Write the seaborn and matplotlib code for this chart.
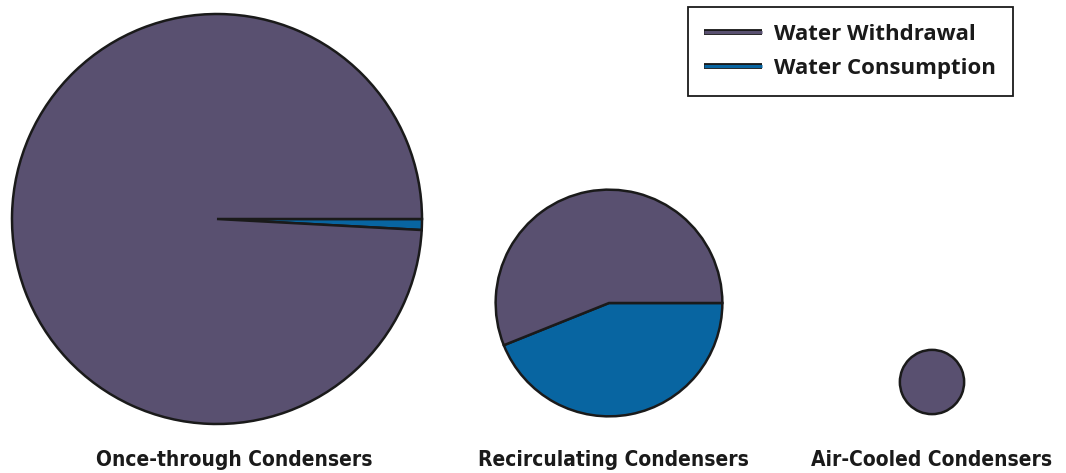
import matplotlib.pyplot as plt
import matplotlib.patheffects as pe
from matplotlib.lines import Line2D
import numpy as np
import seaborn as sns

sns.set_theme(style="white")
plt.rcParams['font.family'] = ['DejaVu Sans']

# Data (gal/MWh)
systems = ["Once-through Condensers", "Recirculating Condensers", "Air-Cooled Condensers"]
withdrawal = [34700, 6000, 860]
consumption = [300, 4700, 0]

colors = {"Water Withdrawal": "#595070", "Water Consumption": "#0865a1"}
edge = "#1a1a1a"

# layout (pixel-ish data coords)
centers = [(217, 254), (609, 170), (932, 91)]
label_x = [234, 613, 932]
scale = 205 / np.sqrt(withdrawal[0] + consumption[0])

fig = plt.figure(figsize=(10.66, 4.73), dpi=100)
ax = fig.add_axes([0, 0, 1, 1])

for i, name in enumerate(systems):
    vals, cols = [], []
    for v, c in [(consumption[i], colors["Water Consumption"]),
                 (withdrawal[i], colors["Water Withdrawal"])]:
        if v > 0:
            vals.append(v)
            cols.append(c)
    r = scale * np.sqrt(withdrawal[i] + consumption[i])
    ax.pie(vals, colors=cols, center=centers[i], radius=r, startangle=0,
           counterclock=False, frame=True,
           wedgeprops=dict(edgecolor=edge, linewidth=1.8))
    ax.text(label_x[i], 13, name, ha="center", va="center",
            fontsize=15, fontweight="bold", fontstretch="condensed",
            color="#1a1a1a")

ax.set_xlim(0, 1066)
ax.set_ylim(0, 473)
ax.set_aspect("equal")
ax.axis("off")

handles = [Line2D([0], [0], color=colors[k], lw=2.2, solid_capstyle="butt",
                  path_effects=[pe.Stroke(linewidth=4.2, foreground=edge, capstyle="butt"),
                                pe.Normal()])
           for k in colors]
leg = fig.legend(handles, list(colors.keys()), loc="upper right",
                 bbox_to_anchor=(1013 / 1066, 1 - 7 / 473), borderaxespad=0,
                 frameon=True, fancybox=False, framealpha=1, handlelength=2.6,
                 prop={"family": "Open Sans", "weight": "bold", "size": 16},
                 labelspacing=0.6, borderpad=0.75, handletextpad=0.55)
leg.get_frame().set_edgecolor(edge)
leg.get_frame().set_linewidth(1.3)
for t in leg.get_texts():
    t.set_color("#1a1a1a")

fig.savefig("out.png", dpi=100, facecolor="white")
